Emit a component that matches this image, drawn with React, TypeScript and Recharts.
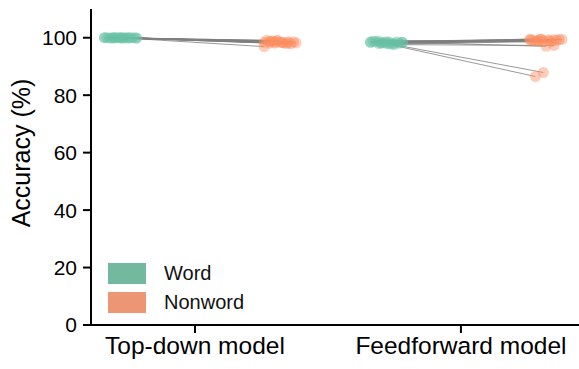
import { ComposedChart, Scatter, XAxis, YAxis } from "recharts";

// per-subject accuracy (%) and horizontal jitter
const models = ["Top-down model", "Feedforward model"];
const yTicks = [0, 20, 40, 60, 80, 100];

const tdWordAcc = [100, 99.9, 100, 100, 99.9, 100, 100, 99.8, 100, 100, 99.9, 100, 100, 100, 99.9, 100, 100, 99.9, 100, 100];
const tdNonwordAcc = [98.4, 98.8, 96.9, 98.2, 99.0, 98.6, 98.1, 98.9, 98.3, 97.9, 98.7, 98.5, 98.0, 99.1, 98.4, 98.2, 98.8, 98.6, 98.3, 98.1];
const ffWordAcc = [98.3, 98.0, 98.6, 97.6, 98.4, 98.8, 98.2, 97.9, 98.5, 98.1, 98.7, 98.3, 97.8, 98.6, 98.4, 98.0, 98.9, 98.2, 98.5, 98.1];
const ffNonwordAcc = [99.2, 98.9, 99.5, 97.3, 99.0, 99.4, 98.8, 87.9, 99.3, 99.1, 86.5, 99.6, 98.7, 99.2, 97.0, 99.4, 99.0, 99.3, 98.9, 99.5];

const wordJitter = [-0.34, -0.31, -0.28, -0.25, -0.22, -0.33, -0.30, -0.27, -0.24, -0.23, -0.32, -0.29, -0.26, -0.34, -0.22, -0.28, -0.31, -0.25, -0.27, -0.30];
const nonwordJitter = [0.26, 0.29, 0.26, 0.35, 0.31, 0.37, 0.28, 0.31, 0.33, 0.36, 0.28, 0.30, 0.34, 0.27, 0.32, 0.38, 0.29, 0.35, 0.33, 0.30];

const WORD = "#66c2a5";
const NONWORD = "#fc8d62";

type Pt = { x: number; y: number };

const build = (model: number, acc: number[]) => (j: number[]) =>
  acc.map((v, i) => ({ x: model + j[i], y: v }));

const tdWord = build(0, tdWordAcc)(wordJitter);
const tdNonword = build(0, tdNonwordAcc)(nonwordJitter);
const ffWord = build(1, ffWordAcc)(wordJitter);
const ffNonword = build(1, ffNonwordAcc)(nonwordJitter);

// one grey line per subject, word -> nonword
const pairs: Pt[][] = [
  ...tdWord.map((p, i) => [p, tdNonword[i]]),
  ...ffWord.map((p, i) => [p, ffNonword[i]]),
];

const noShape = () => <g />;

const dot = (color: string) => (props: any) => (
  <circle cx={props.cx} cy={props.cy} r={5.5} fill={color} fillOpacity={0.45} />
);

const font = "'Liberation Sans', Arial, sans-serif";

const LegendBox = () => (
  <div style={{ position: "absolute", left: 108, top: 259, fontFamily: font, fontSize: 20, color: "#111" }}>
    {[["Word", "#72b9a0"], ["Nonword", "#ec9676"]].map(([name, c]) => (
      <div key={name} style={{ display: "flex", alignItems: "center", height: 29 }}>
        <span style={{ display: "inline-block", width: 38, height: 21, background: c, marginRight: 18 }} />
        <span>{name}</span>
      </div>
    ))}
  </div>
);

export default function App() {
  return (
    <div style={{ position: "absolute", left: 0, top: 0, width: 579, height: 369, background: "#fff" }}>
      <ComposedChart width={579} height={369} margin={{ top: 9, right: 0, bottom: 0, left: 0 }}>
        <XAxis
          type="number"
          dataKey="x"
          domain={[-0.391, 1.444]}
          ticks={[0, 1]}
          tickFormatter={(v: number) => models[v]}
          height={44}
          axisLine={{ stroke: "#000", strokeWidth: 2 }}
          tickLine={{ stroke: "#000", strokeWidth: 2 }}
          tickSize={8}
          tick={{ fill: "#000", fontSize: 24.5, fontFamily: font }}
          tickMargin={4}
          allowDataOverflow
        />
        <YAxis
          type="number"
          dataKey="y"
          domain={[0, 110]}
          ticks={yTicks}
          width={91}
          axisLine={{ stroke: "#000", strokeWidth: 2 }}
          tickLine={{ stroke: "#000", strokeWidth: 2 }}
          tickSize={8}
          tickMargin={6}
          tick={{ fill: "#000", fontSize: 21, fontFamily: font }}
          label={{
            content: () => (
              <text
                x={30}
                y={153}
                transform="rotate(-90 30 153)"
                textAnchor="middle"
                fontSize={25}
                fontFamily={font}
                fill="#000"
              >
                Accuracy (%)
              </text>
            ),
          }}
        />
        {pairs.map((pr, i) => (
          <Scatter
            key={"l" + i}
            data={pr}
            line={{ stroke: "#7f7f7f", strokeWidth: 1, strokeOpacity: 0.8 }}
            shape={noShape}
            isAnimationActive={false}
            legendType="none"
          />
        ))}
        <Scatter data={tdWord} shape={dot(WORD)} isAnimationActive={false} />
        <Scatter data={ffWord} shape={dot(WORD)} isAnimationActive={false} />
        <Scatter data={tdNonword} shape={dot(NONWORD)} isAnimationActive={false} />
        <Scatter data={ffNonword} shape={dot(NONWORD)} isAnimationActive={false} />
      </ComposedChart>
      <LegendBox />
    </div>
  );
}
